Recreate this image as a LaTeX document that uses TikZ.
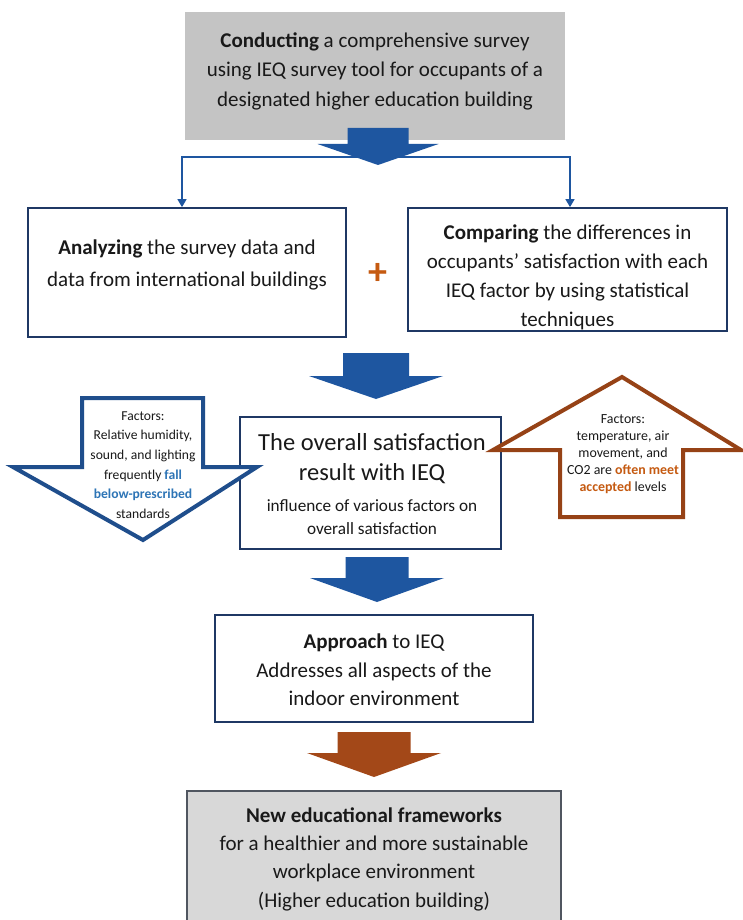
\documentclass[tikz,border=0pt]{standalone}
\usepackage{fontspec}
\setmainfont{Carlito}
\usetikzlibrary{arrows.meta,calc}

\definecolor{navy}{RGB}{31,56,100}
\definecolor{flowblue}{RGB}{30,86,160}
\definecolor{outlineblue}{RGB}{31,78,140}
\definecolor{rust}{RGB}{163,72,24}
\definecolor{rustline}{RGB}{150,66,22}
\definecolor{rusttext}{RGB}{197,90,17}
\definecolor{skyblue}{RGB}{46,117,182}
\definecolor{topgray}{RGB}{196,196,196}
\definecolor{lowgray}{RGB}{216,216,216}
\definecolor{edgegray}{RGB}{80,86,96}
\definecolor{ink}{RGB}{25,25,25}

% solid block arrow pointing down: colour, centre x, top y, body half-width,
% head half-width, neck y, tip y
\newcommand{\fatdown}[7]{%
  \fill[#1] (#2-#4,#3) -- (#2+#4,#3) -- (#2+#4,#6) -- (#2+#5,#6)
    -- (#2,#7) -- (#2-#5,#6) -- (#2-#4,#6) -- cycle;}

\tikzset{
  box/.style={draw=navy, line width=1.8pt, fill=white, inner sep=0pt},
  txt/.style={align=center, inner sep=0pt, text=ink},
  conn/.style={draw=flowblue, line width=1.6pt,
    -{Triangle[width=9pt,length=8pt]}},
  hollowarrow/.style={line width=4pt, fill=white, line join=miter},
}

\begin{document}
\begin{tikzpicture}[x=1pt,y=-1pt]
\useasboundingbox (0,0) rectangle (742,920);
\fill[white] (0,0) rectangle (742,920);

% survey box
\node[fill=topgray, inner sep=0pt, minimum width=380pt, minimum height=128pt]
  (survey) at (375,76) {};
\node[txt, font=\fontsize{21}{29.5}\selectfont] (survey-t) at (375,71)
  {\textbf{Conducting} a comprehensive survey\\
   using IEQ survey tool for occupants of a\\
   designated higher education building};

% the two analysis boxes
\node[box, minimum width=318pt, minimum height=129pt] (analyze) at (187,272.5) {};
\node[txt, font=\fontsize{21}{32}\selectfont] (analyze-t) at (187,265)
  {\textbf{Analyzing} the survey data and\\
   data from international buildings};

\node[box, minimum width=319pt, minimum height=123pt] (compare) at (567.5,269.5) {};
\node[txt, font=\fontsize{21}{29}\selectfont] (compare-t) at (567.5,277)
  {\textbf{Comparing} the differences in\\
   occupants' satisfaction with each\\
   IEQ factor by using statistical\\
   techniques};

\node[text=rusttext, inner sep=0pt, font=\fontsize{38}{38}\selectfont\bfseries]
  (plus) at (378,274) {+};

% fork from the survey to both boxes
\coordinate (fork) at (378,157);
\draw[conn] (fork) -| ([xshift=-5pt]analyze.north);
\draw[conn] (fork) -| ([xshift=2.5pt]compare.north);
\fatdown{flowblue}{378}{128}{30.5}{60.5}{144}{165}

% result box
\fatdown{flowblue}{376}{353}{33}{67}{376}{399}
\node[box, minimum width=261pt, minimum height=132pt] (overall) at (370.5,483) {};
\node[txt, font=\fontsize{24.5}{30}\selectfont] (overall-t) at (372,459)
  {The overall satisfaction\\ result with IEQ};
\node[txt, font=\fontsize{17.2}{23}\selectfont] (overall-s) at (372,517)
  {influence of various factors on\\ overall satisfaction};

% factors below the prescribed standards
\draw[hollowarrow, draw=outlineblue] (82,398) -- (203,398) -- (203,467)
  -- (257,467) -- (143,540) -- (13,467) -- (82,467) -- cycle;
\node[txt, font=\fontsize{13.6}{19.6}\selectfont] (low-t) at (143,465)
  {Factors:\\ Relative humidity,\\ sound, and lighting\\
   frequently \textcolor{skyblue}{\textbf{fall}}\\
   \textcolor{skyblue}{\textbf{below-prescribed}}\\ standards};

% factors at accepted levels
\draw[hollowarrow, draw=rustline] (560,517) -- (683,517) -- (683,450)
  -- (741,450) -- (622,377) -- (493,450) -- (560,450) -- cycle;
\node[txt, font=\fontsize{13.9}{17}\selectfont] (high-t) at (623,454)
  {Factors:\\ temperature, air\\ movement, and\\
   CO2 are \textcolor{rusttext}{\textbf{often meet}}\\
   \textcolor{rusttext}{\textbf{accepted}} levels};

% approach box
\fatdown{flowblue}{377}{557}{31.5}{67}{578}{602}
\node[box, minimum width=318pt, minimum height=107pt] (approach) at (374,668.5) {};
\node[txt, font=\fontsize{21}{28.5}\selectfont] (approach-t) at (374,670)
  {\textbf{Approach} to IEQ\\ Addresses all aspects of the\\ indoor environment};

% frameworks box
\fatdown{rust}{374}{732}{36.5}{67}{753}{777}
\draw[fill=lowgray, draw=edgegray, line width=1.5pt] (187,791) rectangle (561,935);
\node[txt, font=\fontsize{21}{28.3}\selectfont] (frameworks) at (374,859)
  {\textbf{New educational frameworks}\\
   for a healthier and more sustainable\\
   workplace environment\\
   (Higher education building)};
\end{tikzpicture}
\end{document}
